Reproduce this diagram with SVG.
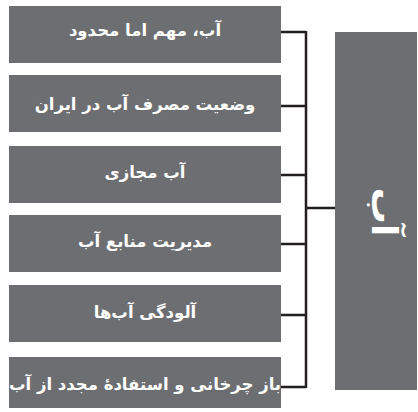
<svg xmlns="http://www.w3.org/2000/svg" width="418" height="412" viewBox="0 0 418 412">
<style>
.box{fill:#6d6e71}
.lbl{fill:#ffffff;font-family:"DejaVu Sans","Noto Sans",sans-serif;font-weight:bold;font-size:16.5px;text-anchor:middle}
.big{fill:#ffffff;font-family:"DejaVu Sans","Noto Sans",sans-serif;font-weight:bold;font-size:36px;text-anchor:middle}
.con{stroke:#231f20;stroke-width:2.5;fill:none}
</style>
<rect width="418" height="412" fill="#ffffff"/>
<g id="connectors">
<path class="con" d="M281 32H306M281 106H306M281 175H306M281 244H306M281 315H306M281 387H306M306 31V388M306 208H335"/>
</g>
<g id="n1"><rect class="box" x="9" y="6" width="272" height="57"/><text class="lbl" x="145" y="36">آب، مهم اما محدود</text></g>
<g id="n2"><rect class="box" x="9" y="75" width="272" height="57"/><text class="lbl" x="145" y="110">وضعیت مصرف آب در ایران</text></g>
<g id="n3"><rect class="box" x="9" y="146" width="272" height="57"/><text class="lbl" x="145" y="178">آب مجازی</text></g>
<g id="n4"><rect class="box" x="9" y="215" width="272" height="57"/><text class="lbl" x="145" y="247">مدیریت منابع آب</text></g>
<g id="n5"><rect class="box" x="9" y="285" width="272" height="57"/><text class="lbl" x="145" y="318">آلودگی آب‌ها</text></g>
<g id="n6"><rect class="box" x="9" y="357" width="272" height="51"/><text class="lbl" x="145" y="390">باز چرخانی و استفادهٔ مجدد از آب</text></g>
<g id="root"><rect class="box" x="335" y="32" width="82" height="358"/><text class="big" transform="translate(372 212) rotate(90)">آب</text></g>
</svg>
